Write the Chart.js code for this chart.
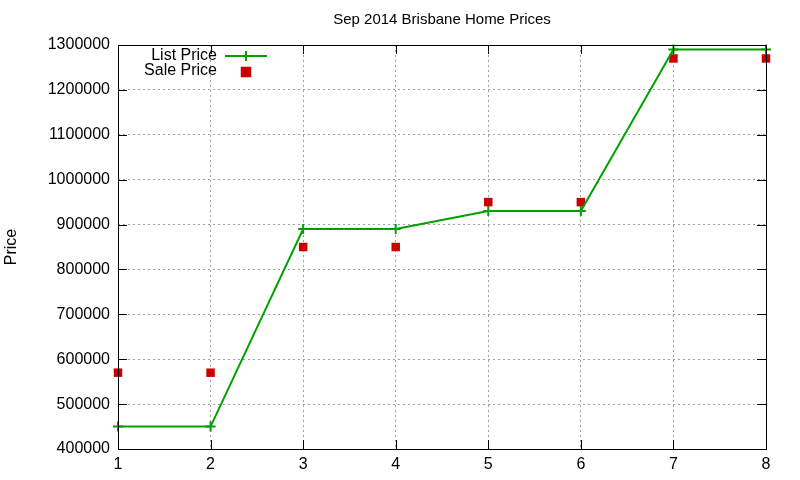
<!DOCTYPE html>
<html>
<head>
<meta charset="utf-8">
<script src="https://cdn.jsdelivr.net/npm/chart.js@4"></script>
<style>
  html, body { margin: 0; padding: 0; background: #fff; }
</style>
</head>
<body>
<canvas id="myChart" width="800" height="480"></canvas>
<script>
// data
var months = [1, 2, 3, 4, 5, 6, 7, 8];
var listPrice = [450000, 450000, 890000, 890000, 930000, 930000, 1290000, 1290000];
var salePrice = [570000, 570000, 850000, 850000, 950000, 950000, 1270000, 1270000];
var yTicks = [400000, 500000, 600000, 700000, 800000, 900000, 1000000, 1100000, 1200000, 1300000];

var chartTitle = 'Sep 2014 Brisbane Home Prices';
var yLabel = 'Price';
var FONT = '"Liberation Sans", Arial, sans-serif';

function pts(vals) {
    var out = [];
    for (let i = 0; i < months.length; i++) {
        out.push({x: months[i], y: vals[i]});
    }
    return out;
}

// gnuplot look: border box, inward ticks, title, y label, legend inside
var gnuplotBits = {
    id: 'gnuplotBits',
    afterDatasetsDraw(chart) {
        var c = chart.ctx, a = chart.chartArea;
        var xs = chart.scales.x, ys = chart.scales.y;
        c.save();
        c.strokeStyle = '#000';
        c.lineWidth = 1;
        c.strokeRect(Math.round(a.left) + 0.5, Math.round(a.top) + 0.5,
                     Math.round(a.right - a.left), Math.round(a.bottom - a.top));
        c.beginPath();
        yTicks.forEach(function(v) {
            var y = Math.round(ys.getPixelForValue(v)) + 0.5;
            c.moveTo(a.left, y); c.lineTo(a.left + 9, y);
            c.moveTo(a.right, y); c.lineTo(a.right - 9, y);
        });
        months.forEach(function(v) {
            var x = Math.round(xs.getPixelForValue(v)) + 0.5;
            c.moveTo(x, a.bottom); c.lineTo(x, a.bottom - 9);
            c.moveTo(x, a.top); c.lineTo(x, a.top + 9);
        });
        c.stroke();

        // title
        c.fillStyle = '#000';
        c.font = '15px ' + FONT;
        c.textAlign = 'center';
        c.textBaseline = 'middle';
        c.fillText(chartTitle, (a.left + a.right) / 2, 20);

        // y label
        c.save();
        c.translate(12, (a.top + a.bottom) / 2);
        c.rotate(-Math.PI / 2);
        c.font = '16px ' + FONT;
        c.fillText(yLabel, 0, 0);
        c.restore();

        // legend
        c.font = '16px ' + FONT;
        c.textAlign = 'right';
        var ds = chart.data.datasets;
        var ly = [56, 71];
        for (let i = 0; i < ds.length; i++) {
            c.fillStyle = '#000';
            c.fillText(ds[i].label, 217, ly[i]);
            if (ds[i].showLine) {
                c.strokeStyle = ds[i].borderColor;
                c.lineWidth = 2;
                c.beginPath();
                c.moveTo(225, ly[i]); c.lineTo(267, ly[i]);
                c.stroke();
            }
            c.fillStyle = ds[i].pointBackgroundColor;
            c.strokeStyle = ds[i].pointBorderColor;
            c.lineWidth = 2;
            Chart.helpers.drawPoint(c, {
                pointStyle: ds[i].pointStyle, radius: ds[i].pointRadius,
                rotation: 0, borderWidth: 2
            }, 246, ly[i] + (ds[i].showLine ? 0 : 1));
        }
        c.restore();
    }
};

var ctx = document.getElementById('myChart').getContext('2d');
var myChart = new Chart(ctx, {
    type: 'scatter',
    data: {
        datasets: [{
            label: 'List Price',
            data: pts(listPrice),
            showLine: true,
            borderColor: '#00a000',
            borderWidth: 2,
            pointStyle: 'cross',
            pointRadius: 5,
            pointBorderColor: '#00a000',
            pointBackgroundColor: '#00a000',
            pointBorderWidth: 2,
            tension: 0,
            clip: false
        }, {
            label: 'Sale Price',
            data: pts(salePrice),
            showLine: false,
            pointStyle: 'rect',
            pointRadius: 6,
            pointBorderColor: '#cc0000',
            pointBackgroundColor: '#cc0000',
            pointBorderWidth: 0,
            clip: false
        }]
    },
    options: {
        responsive: false,
        animation: false,
        devicePixelRatio: 1,
        layout: { padding: { top: 45, right: 34, left: 0, bottom: 0 } },
        plugins: {
            legend: { display: false },
            title: { display: false },
            tooltip: { enabled: false }
        },
        scales: {
            x: {
                type: 'linear',
                min: 1, max: 8,
                afterFit: function(s) { s.height = 31; },
                afterBuildTicks: function(s) { s.ticks = months.map(function(v) { return {value: v}; }); },
                grid: { color: '#a0a0a0', drawTicks: false },
                border: { display: false, dash: [2, 3] },
                ticks: { color: '#000', padding: 6, font: { family: FONT, size: 16 } }
            },
            y: {
                min: 400000, max: 1300000,
                afterFit: function(s) { s.width = 118; },
                afterBuildTicks: function(s) { s.ticks = yTicks.map(function(v) { return {value: v}; }); },
                grid: { color: '#a0a0a0', drawTicks: false },
                border: { display: false, dash: [2, 3] },
                ticks: {
                    color: '#000', padding: 8, font: { family: FONT, size: 16 },
                    callback: function(v) { return String(v); }
                }
            }
        }
    },
    plugins: [gnuplotBits]
});
</script>
</body>
</html>
